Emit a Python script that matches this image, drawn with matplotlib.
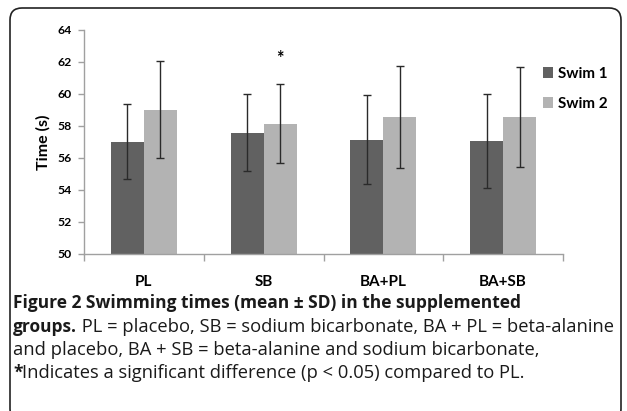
import matplotlib
matplotlib.use("Agg")
import matplotlib.pyplot as plt
import numpy as np
from matplotlib.patches import FancyBboxPatch

categories = ["PL", "SB", "BA+PL", "BA+SB"]
swim1 = [57.02, 57.58, 57.15, 57.06]
swim1_sd = [2.33, 2.42, 2.80, 2.94]
swim2 = [59.02, 58.14, 58.54, 58.58]
swim2_sd = [3.05, 2.46, 3.18, 3.12]
series_labels = ["Swim 1", "Swim 2"]
yticks = [50, 52, 54, 56, 58, 60, 62, 64]

W, H = 627, 411
fig = plt.figure(figsize=(W / 100, H / 100), dpi=100)
ax = fig.add_axes([84 / W, 1 - 254 / H, (563 - 84) / W, (254 - 30) / H])

chart_font = "Lato"
x = np.arange(len(categories))
bw = 0.276
c1, c2 = "#616161", "#b3b3b3"
ekw = dict(ecolor="#2a2a2a", elinewidth=1.0, capsize=3, capthick=1.0)
b1 = ax.bar(x - bw / 2, swim1, bw, color=c1, yerr=swim1_sd, error_kw=ekw, label=series_labels[0], zorder=2)
b2 = ax.bar(x + bw / 2, swim2, bw, color=c2, yerr=swim2_sd, error_kw=ekw, label=series_labels[1], zorder=2)

ax.set_ylim(50, 64)
ax.set_xlim(-0.5, len(categories) - 0.5)
ax.set_yticks(yticks)
ax.set_yticklabels([str(t) for t in yticks], fontfamily=chart_font, fontweight="bold", fontsize=8.8)
ax.set_xticks(x)
ax.set_xticklabels(categories, fontfamily=chart_font, fontweight="bold", fontsize=11)
ax.tick_params(axis="x", length=0, pad=15)
ax.set_xticks(np.arange(-0.5, len(categories)), minor=True)
ax.tick_params(axis="x", which="minor", length=5, color="#a0a0a0", width=1)
ax.tick_params(axis="y", length=4, color="#a0a0a0", width=1, pad=5)
for s in ["top", "right"]:
    ax.spines[s].set_visible(False)
for s in ["left", "bottom"]:
    ax.spines[s].set_color("#a0a0a0")
    ax.spines[s].set_linewidth(1)
ax.set_ylabel("Time (s)", fontfamily=chart_font, fontweight="bold", fontsize=11.5, labelpad=5)

# significance asterisk
ax.text(x[1] + bw / 2, 62.2, "*", ha="center", va="center", fontsize=13, fontweight="bold", fontfamily=chart_font)

leg = fig.legend(handles=[b1, b2], loc="upper left", bbox_to_anchor=(529 / W, 1 - 53 / H),
                 frameon=False, handlelength=0.7, handleheight=0.7, handletextpad=0.3,
                 labelspacing=1.05, prop=dict(family=chart_font, weight="bold", size=11))
for h in leg.legend_handles:
    h.set_edgecolor("none")

# frame
frame = FancyBboxPatch((10, -10), 611, 413, boxstyle="round,pad=0,rounding_size=12",
                       transform=None, facecolor="none", edgecolor="#222222", linewidth=1.2)
fig.patches.append(frame)

cap_font = "Open Sans"
cs = 13.2
bs = 12.55
fig.text(13 / W, 1 - 303 / H, "Figure 2 Swimming times (mean ± SD) in the supplemented",
         fontfamily=cap_font, fontweight="bold", fontsize=bs, va="center", ha="left", color="#1a1a1a")

fig.canvas.draw()
r = fig.canvas.get_renderer()

def two_part(y, bold, rest):
    t = fig.text(13 / W, 1 - y / H, bold, fontfamily=cap_font, fontweight="bold", fontsize=bs,
                 va="center", ha="left", color="#1a1a1a")
    bb = t.get_window_extent(renderer=r)
    fig.text(bb.x1 / W, 1 - y / H, rest, fontfamily=cap_font, fontsize=cs,
             va="center", ha="left", color="#1a1a1a")

two_part(327, "groups.", " PL = placebo, SB = sodium bicarbonate, BA + PL = beta-alanine")
fig.text(13 / W, 1 - 350 / H, "and placebo, BA + SB = beta-alanine and sodium bicarbonate,",
         fontfamily=cap_font, fontsize=cs, va="center", ha="left", color="#1a1a1a")
two_part(373, "*", "Indicates a significant difference (p < 0.05) compared to PL.")

fig.savefig("out.png", dpi=100)
